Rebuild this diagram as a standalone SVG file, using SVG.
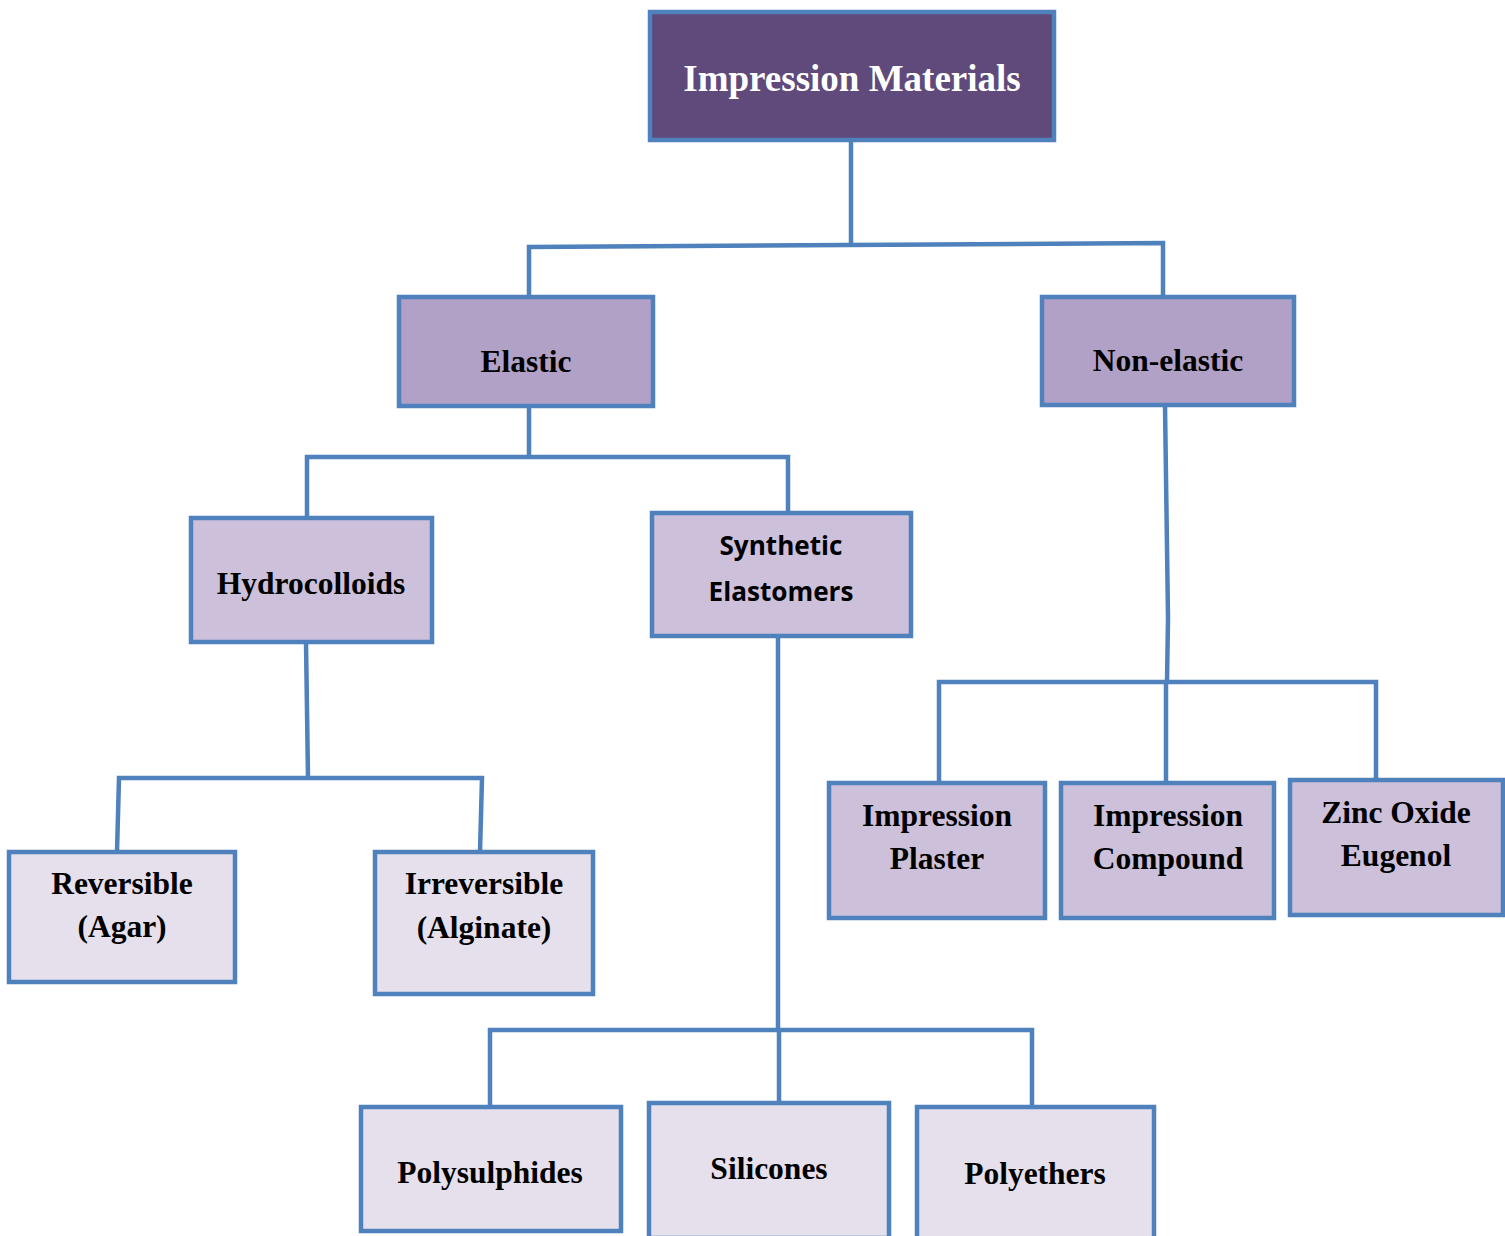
<svg xmlns="http://www.w3.org/2000/svg" width="1505" height="1236" viewBox="0 0 1505 1236">
<style>
.box{stroke:#4F81BD;stroke-width:4.5}
.l1{fill:#604A7B}
.l2{fill:#B2A1C7}
.l3{fill:#CCC0DA}
.l4{fill:#E5E0EC}
.t{font-family:"Liberation Serif","Times New Roman",serif;font-weight:bold;font-size:31.5px;fill:#000;text-anchor:middle}
.ts{font-family:"Open Sans","Liberation Sans",sans-serif;font-weight:bold;font-size:27px;fill:#000;text-anchor:middle}
.top{font-size:37px;fill:#fff}
.c{fill:none;stroke:#4F81BD;stroke-width:4.5;stroke-linejoin:miter}
</style>
<rect width="1505" height="1236" fill="#fff"/>
<g id="connectors">
<path class="c" d="M851,140 L851,245 M529,297 L529,247 L1163,243 L1163,297"/>
<path class="c" d="M529,406 L529,457 M307,518 L307,457 L788,457 L788,513"/>
<path class="c" d="M306,642 L308,778 M117,852 L119,778 L482,778 L480,852"/>
<path class="c" d="M778,636 L778,1030 M490,1107 L490,1030 L1032,1030 L1032,1107 M779,1030 L779,1103"/>
<path class="c" d="M1165,405 L1168,618 L1167,682 M939,783 L939,682 L1376,682 L1376,780 M1166,682 L1166,783"/>
</g>
<g id="impression-materials">
<rect class="box l1" x="650" y="12" width="404" height="128"/>
<text class="t top" x="852" y="91">Impression Materials</text>
</g>
<g id="elastic">
<rect class="box l2" x="399" y="297" width="254" height="109"/>
<text class="t" x="526" y="372">Elastic</text>
</g>
<g id="non-elastic">
<rect class="box l2" x="1042" y="297" width="252" height="108"/>
<text class="t" x="1168" y="371">Non-elastic</text>
</g>
<g id="hydrocolloids">
<rect class="box l3" x="191" y="518" width="241" height="124"/>
<text class="t" x="311" y="594">Hydrocolloids</text>
</g>
<g id="synthetic-elastomers">
<rect class="box l3" x="652" y="513" width="259" height="123"/>
<text class="ts" x="781" y="555" textLength="123" lengthAdjust="spacingAndGlyphs">Synthetic</text>
<text class="ts" x="781" y="601" textLength="145" lengthAdjust="spacingAndGlyphs">Elastomers</text>
</g>
<g id="reversible">
<rect class="box l4" x="9" y="852" width="226" height="130"/>
<text class="t" x="122" y="894">Reversible</text>
<text class="t" x="122" y="937">(Agar)</text>
</g>
<g id="irreversible">
<rect class="box l4" x="375" y="852" width="218" height="142"/>
<text class="t" x="484" y="894">Irreversible</text>
<text class="t" x="484" y="938">(Alginate)</text>
</g>
<g id="impression-plaster">
<rect class="box l3" x="829" y="783" width="216" height="135"/>
<text class="t" x="937" y="826">Impression</text>
<text class="t" x="937" y="869">Plaster</text>
</g>
<g id="impression-compound">
<rect class="box l3" x="1061" y="783" width="213" height="135"/>
<text class="t" x="1168" y="826">Impression</text>
<text class="t" x="1168" y="869">Compound</text>
</g>
<g id="zinc-oxide-eugenol">
<rect class="box l3" x="1290" y="780" width="213" height="135"/>
<text class="t" x="1396" y="823">Zinc Oxide</text>
<text class="t" x="1396" y="866">Eugenol</text>
</g>
<g id="polysulphides">
<rect class="box l4" x="361" y="1107" width="260" height="124"/>
<text class="t" x="490" y="1183">Polysulphides</text>
</g>
<g id="silicones">
<rect class="box l4" x="649" y="1103" width="240" height="135"/>
<text class="t" x="769" y="1179">Silicones</text>
</g>
<g id="polyethers">
<rect class="box l4" x="917" y="1107" width="237" height="135"/>
<text class="t" x="1035" y="1184">Polyethers</text>
</g>
</svg>
